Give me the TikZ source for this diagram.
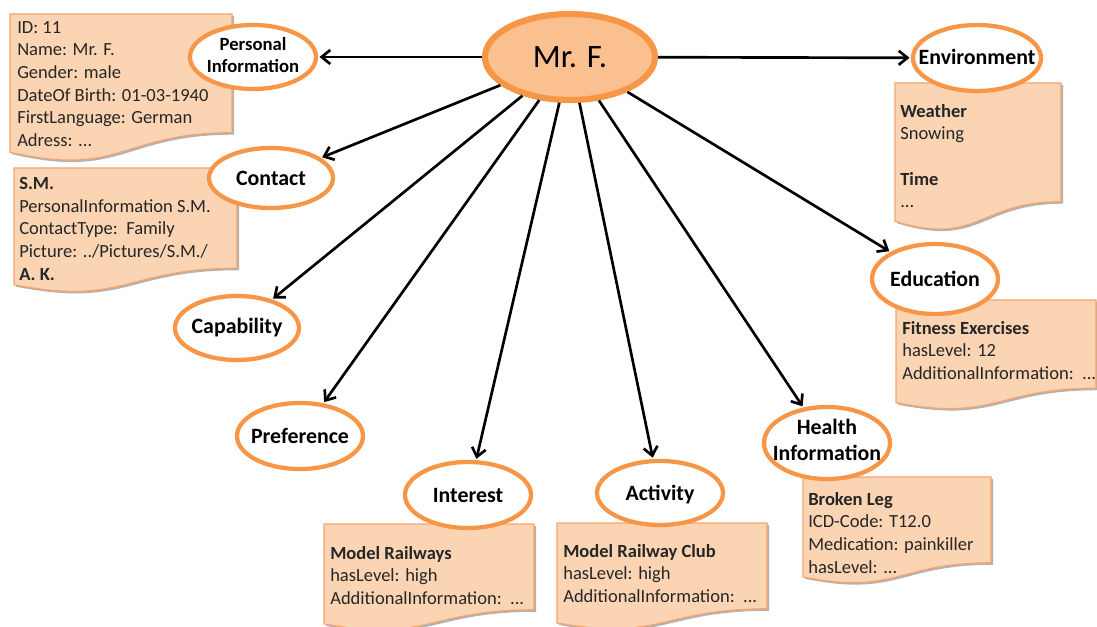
\documentclass[tikz,border=0pt]{standalone}
\usepackage{fontspec}
\setmainfont{Carlito}
\usetikzlibrary{shapes.geometric,arrows.meta,shadows}
\definecolor{orng}{HTML}{F79646}
\definecolor{notebd}{HTML}{F5A46E}
\definecolor{peach}{HTML}{FBD4B4}
\definecolor{mrfill}{HTML}{FAC090}
\definecolor{txt}{HTML}{262626}
\newcommand\docnote[4]{% x1 y1 x2 h
  \path[notestyle] (#1,#2) -- (#3,#2) -- (#3,{#2+0.802*#4})
    .. controls ({(#1+#3)/2},{#2+0.802*#4}) and ({(#1+#3)/2},{#2+1.107*#4}) ..
    (#1,{#2+0.934*#4}) -- cycle;}
\tikzset{
  notestyle/.style={draw=notebd, line width=0.9pt, fill=peach,
    drop shadow={shadow xshift=1.5pt, shadow yshift=-1.5pt, opacity=0.3, fill=black}},
  notetext/.style={anchor=north west, inner sep=0pt, align=left, text=txt,
    font=\fontsize{13.9}{17}\selectfont},
  ell/.style 2 args={ellipse, draw=orng, line width=3.2pt, fill=white,
    minimum width={#1*1.5pt}, minimum height={#2*1.5pt}, inner sep=0pt},
  lbl/.style={inner sep=0pt, align=center, font=\bfseries\fontsize{16.4}{19.5}\selectfont},
  arr/.style={-{Straight Barb[length=6.5pt,width=10.5pt]}, line width=2pt, black, shorten >=1pt}
}
\begin{document}
\begin{tikzpicture}[x=0.75pt,y=-0.75pt]
\useasboundingbox (0,0) rectangle (1097,627);
% notes
\docnote{10}{14}{232}{148}
\node[notetext] (pitext) at (17,21) {ID: 11\\Name: Mr. F.\\Gender: male\\DateOf Birth: 01-03-1940\\FirstLanguage: German\\Adress: ...};
\docnote{14}{168}{237}{125}
\node[notetext] (context) at (19,177) {\textbf{S.M.}\\PersonalInformation S.M.\\ContactType:\ \ Family\\Picture: ../Pictures/S.M./\\\textbf{A. K.}};
\docnote{895}{83}{1061}{148}
\node[notetext] (envtext) at (900,104) {\textbf{Weather}\\Snowing\\[17pt]\textbf{Time}\\...};
\docnote{896}{300}{1096}{110}
\node[notetext] (edutext) at (902,321) {\textbf{Fitness Exercises}\\hasLevel: 12\\AdditionalInformation:\ \ ...};
\docnote{324}{524}{534}{107}
\node[notetext] (inttext) at (330,546) {\textbf{Model Railways}\\hasLevel: high\\AdditionalInformation:\ \ ...};
\docnote{557}{523}{767}{107}
\node[notetext] (acttext) at (563,544) {\textbf{Model Railway Club}\\hasLevel: high\\AdditionalInformation:\ \ ...};
\docnote{803}{477}{991}{107}
\node[notetext] (heatext) at (808,492) {\textbf{Broken Leg}\\ICD-Code: T12.0\\Medication: painkiller\\hasLevel: ...};
% ellipses
\node[ell={85}{43}, fill=mrfill, line width=4.6pt] (mrf) at (570,57) {};
\node[font=\fontsize{24.5}{29}\selectfont, inner sep=0pt] (mrflbl) at (570,57) {Mr. F.};
\node[ell={63}{32}] (pi) at (253,57) {};
\node[lbl, font=\bfseries\fontsize{14}{17}\selectfont] at (253,55) {Personal\\Information};
\node[ell={62}{30}] (con) at (271,178) {};
\node[lbl] at (271,178) {Contact};
\node[ell={62}{32}] (cap) at (237,328) {};
\node[lbl] at (237,328) {Capability};
\node[ell={63}{33}] (pref) at (300,436) {};
\node[lbl] at (300,436) {Preference};
\node[ell={63}{33}] (int) at (468,495) {};
\node[lbl] at (468,495) {Interest};
\node[ell={63}{32}] (act) at (660,493) {};
\node[lbl] at (660,495) {Activity};
\node[ell={63}{36}] (hea) at (827,443) {};
\node[lbl] at (827,440) {Health\\Information};
\node[ell={63}{35}] (edu) at (935,279) {};
\node[lbl] at (935,279) {Education};
\node[ell={64}{33}] (env) at (977,58) {};
\node[lbl] at (977,57) {Environment};
% arrows
\draw[arr] (mrf) -- (pi);
\draw[arr] (mrf) -- (env);
\draw[arr] (mrf) -- (con);
\draw[arr] (mrf) -- (cap);
\draw[arr] (mrf) -- (pref);
\draw[arr] (mrf) -- (int);
\draw[arr] (mrf) -- (act);
\draw[arr] (mrf) -- (hea);
\draw[arr] (mrf) -- (edu);
\end{tikzpicture}
\end{document}
